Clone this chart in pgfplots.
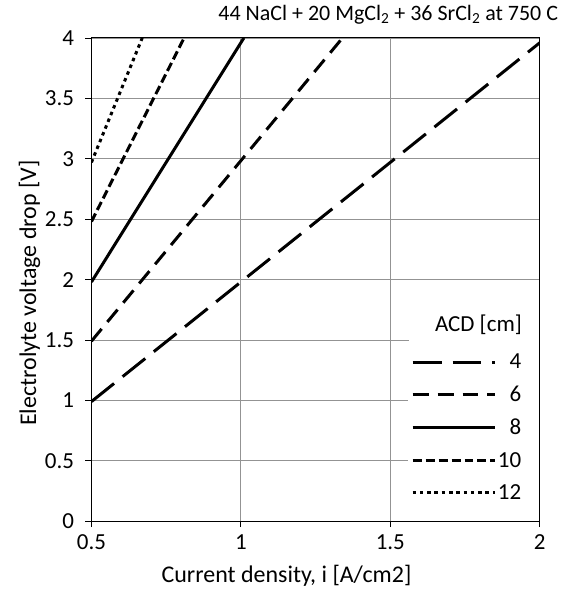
\documentclass[border=0pt]{standalone}
\usepackage{pgfplots}
\pgfplotsset{compat=1.18}
\usepackage{fontspec}
\setmainfont{Carlito}
\begin{document}
\begin{tikzpicture}
\begin{axis}[
  scale only axis,
  width=449bp, height=484bp,
  xmin=0.5, xmax=2, ymin=0, ymax=4,
  xtick={0.5,1,1.5,2},
  ytick={0,0.5,1,1.5,2,2.5,3,3.5,4},
  /pgf/number format/assume math mode=true,
  tick label style={font=\fontsize{23bp}{27bp}\selectfont},
  xticklabel style={yshift=-4bp},
  yticklabel style={xshift=-8bp},
  tick align=outside,
  major tick length=6bp,
  tick style={black, line width=0.8bp},
  xtick pos=bottom, ytick pos=left,
  axis line style={black, line width=0.9bp},
  grid=major,
  grid style={gray!85, line width=0.8bp},
  xlabel={Current density, i [A/cm2]},
  ylabel={Electrolyte voltage drop [V]},
  label style={font=\fontsize{24bp}{28bp}\selectfont},
  xlabel style={at={(rel axis cs:0.435,0)}, anchor=center, yshift=-55bp},
  ylabel style={at={(rel axis cs:0,0.472)}, anchor=center, yshift=62bp},
  title={44 NaCl + 20 MgCl\textsubscript{2} + 36 SrCl\textsubscript{2} at 750 C},
  title style={at={(rel axis cs:0.662,1)}, anchor=south, yshift=4bp,
    font=\fontsize{22bp}{26bp}\selectfont},
  legend style={at={(rel axis cs:0.968,0.035)}, anchor=south east,
    draw=none, fill=white, row sep=14bp,
    font=\fontsize{23bp}{27bp}\selectfont,
    nodes={inner sep=1bp}},
  legend cell align=right,
  legend image code/.code={\draw[#1] (0bp,0bp) -- (83bp,0bp);},
  every axis plot/.append style={black, line width=3bp},
]
\fill[white] (rel axis cs:0.708,0.033) rectangle (rel axis cs:0.998,0.46);
\addplot[dash pattern=on 29bp off 11bp] coordinates {(0.5,0.99) (2,3.96)};
\addlegendentry{4}
\addplot[dash pattern=on 16bp off 9bp] coordinates {(0.5,1.49) (1.34,4)};
\addlegendentry{6}
\addplot[solid] coordinates {(0.5,1.98) (1.01,4)};
\addlegendentry{8}
\addplot[dash pattern=on 9bp off 4bp] coordinates {(0.5,2.48) (0.81,4)};
\addlegendentry{10}
\addplot[dash pattern=on 3.5bp off 3.8bp] coordinates {(0.5,2.97) (0.67,4)};
\addlegendentry{12}
\node[anchor=east, font=\fontsize{23bp}{27bp}\selectfont] at (rel axis cs:0.968,0.407) {ACD [cm]};
\coordinate (bl) at (rel axis cs:-0.204,-0.1405);
\coordinate (tr) at (rel axis cs:1.033,1.0785);
\end{axis}
\path (bl) rectangle (tr);
\end{tikzpicture}
\end{document}
